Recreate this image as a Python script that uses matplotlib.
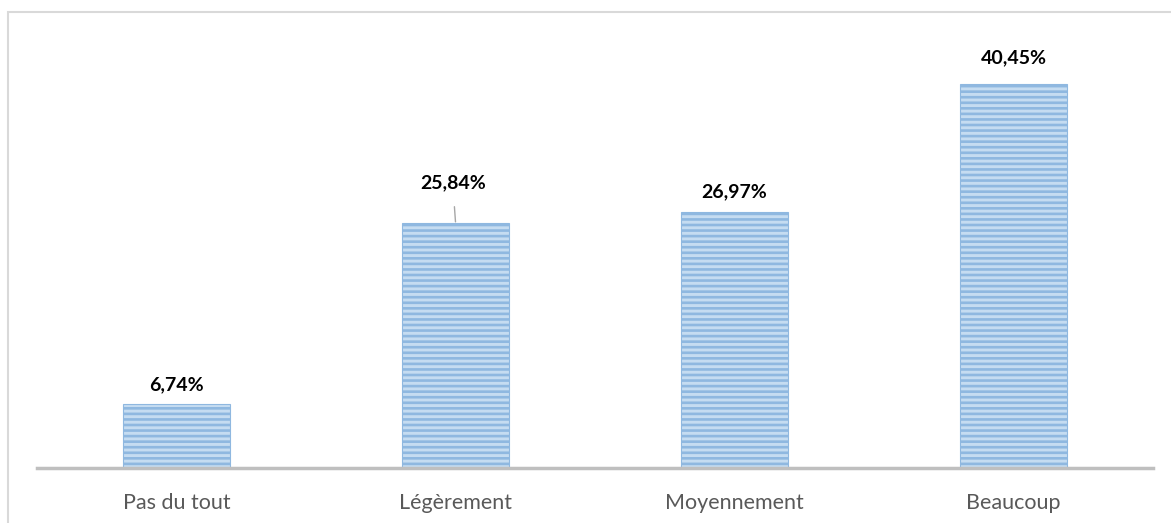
import matplotlib.pyplot as plt
from matplotlib.patches import Rectangle

categories = ["Pas du tout", "Légèrement", "Moyennement", "Beaucoup"]
values = [6.74, 25.84, 26.97, 40.45]
labels = ["6,74%", "25,84%", "26,97%", "40,45%"]
label_gap = [2.0, 4.2, 2.1, 2.8]

plt.rcParams["font.family"] = ["Lato", "DejaVu Sans"]
plt.rcParams["hatch.color"] = "#5b9bd5"
plt.rcParams["hatch.linewidth"] = 1.9

fig = plt.figure(figsize=(11.71, 5.23), dpi=100)
# outer chart frame
fig.patches.append(Rectangle((8 / 1171, -0.1), 1.2, 1.1 - 12 / 523,
                             transform=fig.transFigure, fill=False,
                             edgecolor="#d9d9d9", linewidth=1.5))

ax = fig.add_axes([37 / 1171, 1 - 468 / 523, (1153 - 37) / 1171, 427 / 523])
x = range(len(categories))
bars = ax.bar(x, values, width=0.38, color="#c5dcf1", hatch="---",
              edgecolor="#8fb8e0", linewidth=0.8)

for i, (v, lab, g) in enumerate(zip(values, labels, label_gap)):
    if i == 1:
        ax.annotate(lab, xy=(i, v + 0.1), xytext=(i - 0.01, v + g),
                    ha="center", va="center", fontsize=14, fontweight="bold",
                    arrowprops=dict(arrowstyle="-", color="#a6a6a6", lw=1,
                                    shrinkA=9, shrinkB=0))
    else:
        ax.text(i, v + g, lab, ha="center", va="center",
                fontsize=14, fontweight="bold")

ax.set_xlim(-0.5, 3.5)
ax.set_ylim(0, 45)
ax.set_xticks(list(x))
ax.set_xticklabels(categories, fontsize=15.5, color="#595959")
ax.tick_params(axis="x", length=0, pad=18)
ax.set_yticks([])
for s in ["top", "right", "left"]:
    ax.spines[s].set_visible(False)
ax.spines["bottom"].set_color("#bfbfbf")
ax.spines["bottom"].set_linewidth(2.5)

fig.savefig("out.png", dpi=100)
